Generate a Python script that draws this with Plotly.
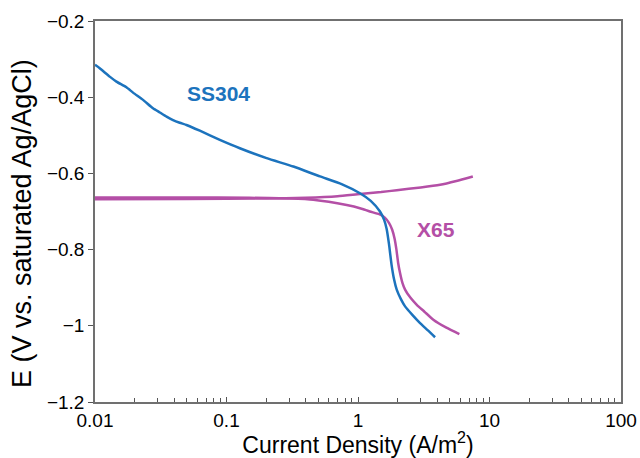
import plotly.graph_objects as go

# SS304 polarization curve (current density A/m^2, potential V)
ss304_j = [0.01, 0.01086, 0.01294, 0.01455, 0.01734, 0.01947, 0.0232, 0.0276, 0.0311, 0.035, 0.0392,
           0.0441, 0.0496, 0.0627, 0.089, 0.1263, 0.2018, 0.3227, 0.514, 0.75, 1.035, 1.25, 1.47,
           1.58, 1.65, 1.72, 1.80, 1.88, 1.97, 2.12, 2.28, 2.6, 2.965, 3.4, 3.855]
ss304_E = [-0.315, -0.324, -0.346, -0.359, -0.374, -0.388, -0.407, -0.429, -0.440, -0.451, -0.460,
           -0.467, -0.473, -0.488, -0.512, -0.534, -0.560, -0.582, -0.608, -0.628, -0.652, -0.672, -0.700,
           -0.722, -0.745, -0.785, -0.840, -0.878, -0.905, -0.930, -0.949, -0.972, -0.993, -1.012, -1.030]

# X65 cathodic branch
x65c_j = [0.01, 0.05, 0.15, 0.3, 0.457, 0.82, 1.05, 1.23, 1.45, 1.6, 1.72, 1.82, 1.9, 1.96, 2.02, 2.09,
          2.18, 2.28, 2.5, 2.8, 3.2, 3.74, 4.7, 5.9]
x65c_E = [-0.663, -0.663, -0.664, -0.666, -0.669, -0.683, -0.692, -0.700, -0.707, -0.716, -0.730, -0.748,
          -0.772, -0.800, -0.835, -0.862, -0.888, -0.905, -0.926, -0.945, -0.963, -0.984, -1.005, -1.022]

# X65 anodic branch
x65a_j = [0.01, 0.05, 0.2, 0.4, 0.7, 1.035, 1.5, 1.97, 3.0, 4.21, 5.6, 7.47]
x65a_E = [-0.668, -0.667, -0.666, -0.664, -0.660, -0.654, -0.649, -0.644, -0.637, -0.630, -0.620, -0.608]

x_tickvals = [0.01, 0.1, 1, 10, 100]
x_ticktext = ["0.01", "0.1", "1", "10", "100"]
y_tickvals = [-0.2, -0.4, -0.6, -0.8, -1.0, -1.2]
y_ticktext = ["\u22120.2", "\u22120.4", "\u22120.6", "\u22120.8", "\u22121", "\u22121.2"]

BLUE = "#1c73bd"
MAG = "#b44fa6"
FONT = "Liberation Sans, Arial, sans-serif"

fig = go.Figure()
fig.add_trace(go.Scatter(x=x65a_j, y=x65a_E, mode="lines",
                         line=dict(color=MAG, width=2.5, shape="spline", smoothing=0.5)))
fig.add_trace(go.Scatter(x=x65c_j, y=x65c_E, mode="lines",
                         line=dict(color=MAG, width=2.5, shape="spline", smoothing=0.5)))
fig.add_trace(go.Scatter(x=ss304_j, y=ss304_E, mode="lines",
                         line=dict(color=BLUE, width=2.5, shape="spline", smoothing=0.5)))

fig.add_annotation(x=-1.058, y=-0.391, xref="x", yref="y", text="<b>SS304</b>",
                   showarrow=False, font=dict(family=FONT, size=21, color=BLUE))
fig.add_annotation(x=0.593, y=-0.748, xref="x", yref="y", text="<b>X65</b>",
                   showarrow=False, font=dict(family=FONT, size=21, color=MAG))
fig.add_annotation(x=-0.1388, y=0.4698, xref="paper", yref="paper", textangle=-90,
                   text="E (V vs. saturated Ag/AgCl)", showarrow=False,
                   xanchor="center", yanchor="middle",
                   font=dict(family=FONT, size=27, color="black"))

fig.update_layout(
    width=640, height=458,
    margin=dict(l=95, r=19, t=21, b=56),
    paper_bgcolor="white", plot_bgcolor="white",
    showlegend=False,
    font=dict(family=FONT, color="black"),
)
fig.update_xaxes(
    type="log", range=[-2, 2], automargin=False,
    tickvals=x_tickvals, ticktext=x_ticktext,
    ticks="inside", ticklen=5, tickcolor="#555", tickwidth=1,
    minor=dict(ticks="inside", ticklen=4, tickcolor="#555", dtick="D1", showgrid=False),
    showgrid=False, zeroline=False,
    showline=True, mirror=True, linecolor="#707070", linewidth=1.5,
    tickfont=dict(size=19, family=FONT),
    title=dict(text="Current Density (A/m<sup>2</sup>)", font=dict(size=23, family=FONT), standoff=0),
)
fig.update_yaxes(
    range=[-1.2, -0.2], automargin=False,
    tickvals=y_tickvals, ticktext=y_ticktext,
    ticks="outside", ticklen=5, tickcolor="#555", tickwidth=1,
    showgrid=False, zeroline=False,
    showline=True, mirror=True, linecolor="#707070", linewidth=1.5,
    tickfont=dict(size=19, family=FONT),
)

fig.write_html("out.html", config={"displayModeBar": False},
               post_script="document.body.style.margin='0';")
